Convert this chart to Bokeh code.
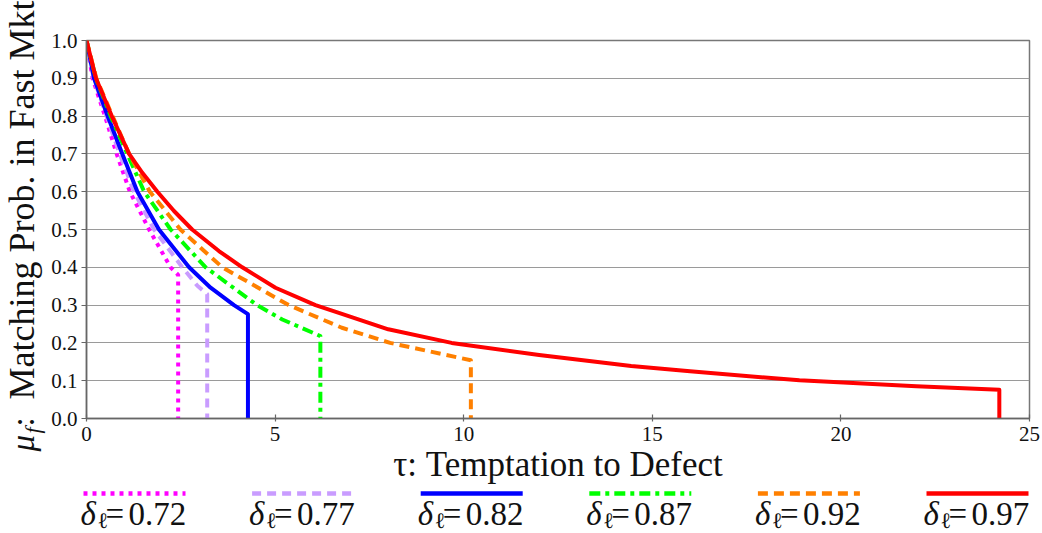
from bokeh.plotting import figure
from bokeh.layouts import column, row
from bokeh.models import FixedTicker, NumeralTickFormatter, Range1d
from bokeh.embed import file_html
from bokeh.resources import INLINE
from bokeh.core.properties import value

FONT = "Liberation Serif"

# ---------------- data ----------------
x_ticks = [0, 5, 10, 15, 20, 25]
y_ticks = [0.0, 0.1, 0.2, 0.3, 0.4, 0.5, 0.6, 0.7, 0.8, 0.9, 1.0]
x_label = "τ: Temptation to Defect"
y_label_main = "Matching Prob. in Fast Mkt"

delta_labels = ["0.72", "0.77", "0.82", "0.87", "0.92", "0.97"]
series_colors = ["#ff00ff", "#c99cff", "#0000ff", "#00ff00", "#ff8000", "#ff0000"]
series_dashes = ["4 5", "9 6", "solid", "11 5 4 5", "10 6", "solid"]

tau_072 = [0.0, 0.16, 0.49, 0.80, 1.15, 1.66, 2.23, 2.43, 2.43]
mu_072 = [1.0, 0.9, 0.8, 0.7, 0.6, 0.5, 0.4, 0.38, 0.0]

tau_077 = [0.0, 0.19, 0.53, 0.88, 1.26, 1.79, 2.54, 2.94, 3.20, 3.20]
mu_077 = [1.0, 0.9, 0.8, 0.7, 0.6, 0.5, 0.4, 0.351, 0.329, 0.0]

tau_082 = [0.0, 0.20, 0.56, 0.95, 1.35, 1.92, 2.72, 3.29, 3.91, 4.28, 4.28]
mu_082 = [1.0, 0.9, 0.8, 0.7, 0.6, 0.5, 0.4, 0.346, 0.3, 0.276, 0.0]

tau_087 = [0.0, 0.25, 0.64, 1.08, 1.53, 2.23, 3.16, 4.52, 5.19, 6.20, 6.20]
mu_087 = [1.0, 0.9, 0.8, 0.7, 0.6, 0.5, 0.4, 0.3, 0.262, 0.218, 0.0]

tau_092 = [0.0, 0.26, 0.69, 1.13, 1.68, 2.49, 3.60, 5.36, 6.77, 8.05, 10.19, 10.19]
mu_092 = [1.0, 0.9, 0.8, 0.7, 0.6, 0.5, 0.4, 0.3, 0.24, 0.2, 0.154, 0.0]

tau_097 = [0.0, 0.25, 0.67, 1.13, 1.48, 1.88, 2.32, 2.80, 3.51, 4.13, 5.01, 6.07, 6.77,
           8.00, 9.68, 12.0, 14.44, 16.0, 18.9, 22.0, 24.2, 24.2]
mu_097 = [1.0, 0.9, 0.8, 0.7, 0.65, 0.6, 0.549, 0.5, 0.443, 0.4, 0.346, 0.3, 0.277,
          0.236, 0.2, 0.168, 0.139, 0.125, 0.101, 0.085, 0.076, 0.0]

series_tau = [tau_072, tau_077, tau_082, tau_087, tau_092, tau_097]
series_mu = [mu_072, mu_077, mu_082, mu_087, mu_092, mu_097]

YL_W = 48
TOP_H = 487
LEG_H = 533 - TOP_H
FRAME_L, FRAME_R, FRAME_T, FRAME_B = 84, 1029, 40, 418

# ---------------- main plot ----------------
p = figure(width=1042 - YL_W, height=TOP_H, x_range=Range1d(0, 25), y_range=Range1d(0, 1.0),
           output_backend="svg", toolbar_location=None,
           min_border_left=FRAME_L - YL_W, min_border_right=1042 - FRAME_R,
           min_border_top=FRAME_T, min_border_bottom=TOP_H - FRAME_B)
p.background_fill_color = "white"
p.border_fill_color = "white"
p.outline_line_color = "#777777"
p.outline_line_width = 1.5

p.xgrid.visible = False
p.ygrid.grid_line_color = "#9a9a9a"
p.ygrid.grid_line_width = 1.2

p.xaxis.ticker = FixedTicker(ticks=x_ticks, minor_ticks=[])
p.yaxis.ticker = FixedTicker(ticks=y_ticks, minor_ticks=[])
p.yaxis.formatter = NumeralTickFormatter(format="0.0")

for ax in (p.xaxis, p.yaxis):
    ax.axis_line_color = "#666666"
    ax.axis_line_width = 1.5
    ax.major_tick_line_color = "#666666"
    ax.major_tick_line_width = 1.2
    ax.minor_tick_line_color = None
    ax.major_label_text_font = FONT
    ax.major_label_text_font_size = "21px"
    ax.major_label_text_color = "#111111"

p.xaxis.major_tick_in = 4
p.xaxis.major_tick_out = 3
p.yaxis.major_tick_in = 0
p.yaxis.major_tick_out = 5
p.yaxis.major_label_standoff = 4

p.xaxis.axis_label = x_label
p.xaxis.axis_label_text_font = FONT
p.xaxis.axis_label_text_font_size = "35px"
p.xaxis.axis_label_text_font_style = "normal"
p.xaxis.axis_label_text_color = "#111111"
p.xaxis.axis_label_standoff = 1

for tau, mu, c, d in zip(series_tau, series_mu, series_colors, series_dashes):
    p.line(tau, mu, line_color=c, line_width=4, line_dash=d, line_join="round")

# ---------------- y label panel ----------------
yl = figure(width=YL_W, height=TOP_H, x_range=Range1d(0, YL_W), y_range=Range1d(0, TOP_H),
            output_backend="svg", toolbar_location=None, min_border=0)
yl.axis.visible = False
yl.grid.visible = False
yl.outline_line_color = None


def ytext(xb, yc, s, size, style="normal"):
    # xb: baseline x (page px), yc: start of text (page px from top)
    yl.text(x=[xb - 0.36 * size], y=[TOP_H - yc], text=[s], angle=1.5708,
            text_font=value(FONT), text_font_size=f"{size}px", text_font_style=style,
            text_color="#111111", text_baseline="alphabetic", text_align="left")


ytext(34, 451, "μ", 33, "italic")
ytext(40, 433, "f", 22, "italic")
ytext(34, 426, ":", 33)
ytext(34, 399, y_label_main, 36)

# ---------------- legend panel ----------------
lg = figure(width=1042, height=LEG_H, x_range=Range1d(0, 1042), y_range=Range1d(0, LEG_H),
            output_backend="svg", toolbar_location=None, min_border=0)
lg.axis.visible = False
lg.grid.visible = False
lg.outline_line_color = None


def ltext(x, yb, s, size, style="normal"):
    # yb: desired baseline, page px from top
    lg.text(x=[x], y=[533 - yb + 0.36 * size], text=[s], text_font=value(FONT),
            text_font_size=f"{size}px", text_font_style=style, text_color="#111111",
            text_baseline="alphabetic", text_align="left")


for i, (lab, c, d) in enumerate(zip(delta_labels, series_colors, series_dashes)):
    x0 = 83 + i * 168.6
    lg.line([x0, x0 + 102], [533 - 493, 533 - 493], line_color=c, line_width=4.5, line_dash=d)
    ltext(x0 - 3, 525, "δ", 33, "italic")
    ltext(x0 + 14, 528, "ℓ", 22)
    ltext(x0 + 22, 525, "=", 33)
    ltext(x0 + 45, 525, lab, 33)

layout = column(row(yl, column(p), spacing=0), lg, spacing=0)
open("out.html", "w").write(file_html(layout, INLINE))
